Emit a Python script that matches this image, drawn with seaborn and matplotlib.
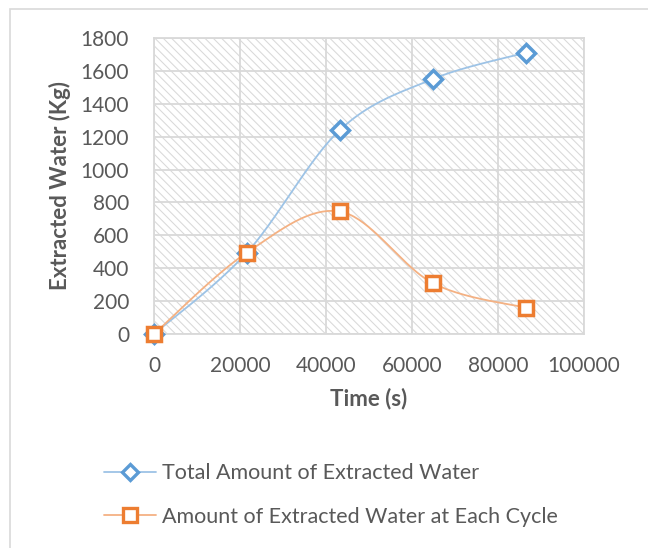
import numpy as np
import pandas as pd
import matplotlib
matplotlib.use("Agg")
import matplotlib.pyplot as plt
from matplotlib.lines import Line2D
from matplotlib.patches import Rectangle
import seaborn as sns

# ---- data ----
time_s = [0, 21600, 43200, 64800, 86400]
total_water = [0, 495, 1240, 1550, 1710]
cycle_water = [0, 495, 745, 310, 160]
series_names = ["Total Amount of Extracted Water", "Amount of Extracted Water at Each Cycle"]
x_ticks = [0, 20000, 40000, 60000, 80000, 100000]
y_ticks = [0, 200, 400, 600, 800, 1000, 1200, 1400, 1600, 1800]

sns.set_theme(style="white")
plt.rcParams['font.family'] = ['Lato', 'DejaVu Sans']
plt.rcParams['hatch.linewidth'] = 0.75
plt.rcParams['hatch.color'] = '#dcdcdc'

TXT = '#595959'
GRID = '#d9d9d9'
BLUE_L, BLUE_M = '#9DC3E6', '#5B9BD5'
ORNG_L, ORNG_M = '#F4B183', '#ED7D31'


def smooth(xs, ys, n=40):
    """Excel-like smoothed line (Catmull-Rom Bezier)."""
    P = np.column_stack([xs, ys]).astype(float)
    pts = []
    for i in range(len(P) - 1):
        p0 = P[i - 1] if i > 0 else P[i]
        p1, p2 = P[i], P[i + 1]
        p3 = P[i + 2] if i + 2 < len(P) else P[i + 1]
        c1 = p1 + (p2 - p0) / 6.0
        c2 = p2 - (p3 - p1) / 6.0
        t = np.linspace(0, 1, n)[:, None]
        seg = ((1 - t) ** 3) * p1 + 3 * ((1 - t) ** 2) * t * c1 + 3 * (1 - t) * t ** 2 * c2 + t ** 3 * p2
        pts.append(seg if i == 0 else seg[1:])
    return np.vstack(pts)


W, H = 648, 548
fig = plt.figure(figsize=(W / 100, H / 100), dpi=100)
ax = fig.add_axes([154 / W, 1 - 334 / H, (584 - 154) / W, (334 - 38) / H])

# outer chart border
fig.patches.append(Rectangle((10 / W, -0.1), 1.2, 1 - 9 / H + 0.1, transform=fig.transFigure,
                             fill=False, edgecolor='#d9d9d9', linewidth=1.2, zorder=0))

# hatched plot area
ax.set_facecolor('white')
ax.add_patch(Rectangle((0, 0), 1, 1, transform=ax.transAxes, facecolor='white',
                       edgecolor=GRID, hatch='\\' * 4, linewidth=0, zorder=0))

for xs, ys, lc in [(time_s, total_water, BLUE_L), (time_s, cycle_water, ORNG_L)]:
    c = smooth(xs, ys)
    df = pd.DataFrame({'x': c[:, 0], 'y': c[:, 1]})
    sns.lineplot(data=df, x='x', y='y', sort=False, color=lc, linewidth=1.3, ax=ax, zorder=3)

ax.plot(time_s, total_water, linestyle='none', marker='D', markersize=9, markerfacecolor='white',
        markeredgecolor=BLUE_M, markeredgewidth=2.5, clip_on=False, zorder=4)
ax.plot(time_s, cycle_water, linestyle='none', marker='s', markersize=10.5, markerfacecolor='white',
        markeredgecolor=ORNG_M, markeredgewidth=2.5, clip_on=False, zorder=5)

ax.set_xlim(0, 100000)
ax.set_ylim(0, 1800)
ax.set_xticks(x_ticks)
ax.set_yticks(y_ticks)
ax.set_xticklabels([str(v) for v in x_ticks])
ax.set_yticklabels([str(v) for v in y_ticks])
ax.tick_params(axis='both', length=0, labelsize=15, colors=TXT)
ax.tick_params(axis='y', pad=18)
ax.tick_params(axis='x', pad=16)
ax.grid(True, color=GRID, linewidth=1.3)
ax.set_axisbelow(False)
for sp in ax.spines.values():
    sp.set_color(GRID)
    sp.set_linewidth(1.3)

ax.set_xlabel('Time (s)', fontsize=16, fontweight='bold', color=TXT, labelpad=8)
ax.set_ylabel('Extracted Water (Kg)', fontsize=16, fontweight='bold', color=TXT, labelpad=7)

handles = [
    Line2D([], [], color=BLUE_L, linewidth=1.3, marker='D', markersize=8.5, markerfacecolor='white',
           markeredgecolor=BLUE_M, markeredgewidth=2.4),
    Line2D([], [], color=ORNG_L, linewidth=1.3, marker='s', markersize=10, markerfacecolor='white',
           markeredgecolor=ORNG_M, markeredgewidth=2.4),
]
leg = fig.legend(handles, series_names, loc='upper left', bbox_to_anchor=(85 / W, 1 - 444 / H),
                 frameon=False, fontsize=15.5, handlelength=2.4, handletextpad=0.3, labelspacing=1.09)
for t in leg.get_texts():
    t.set_color(TXT)

fig.savefig('out.png', dpi=100)
